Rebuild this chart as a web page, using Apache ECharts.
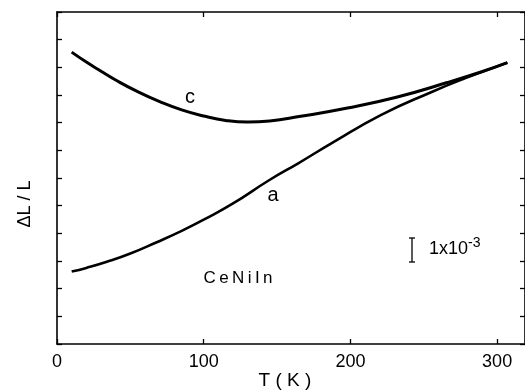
<!DOCTYPE html>
<html>
<head>
<meta charset="utf-8">
<script src="https://cdn.jsdelivr.net/npm/echarts@6/dist/echarts.min.js"></script>
<style>
html,body{margin:0;padding:0;background:#fff;}
#chart{width:525px;height:390px;}
</style>
</head>
<body>
<div id="chart"></div>
<script>
// Temperature (K) and ΔL/L (arbitrary offset units, 1 unit ≈ tick spacing)
var T_c = [10, 20, 30, 40, 55, 70, 85, 100, 115, 130, 145, 165, 198, 232, 266, 290, 307];
var dL_c = [10.55, 10.19, 9.86, 9.54, 9.12, 8.76, 8.46, 8.24, 8.08, 8.02, 8.06, 8.22, 8.53, 8.93, 9.45, 9.85, 10.17];
var T_a = [10, 20, 34, 50, 68, 85, 101, 120, 144, 165, 187, 221, 255, 278, 307];
var dL_a = [2.62, 2.75, 2.97, 3.27, 3.68, 4.09, 4.52, 5.08, 5.9, 6.55, 7.25, 8.28, 9.1, 9.6, 10.17];
var xTicks = [0, 100, 200, 300];

function pairs(xs, ys){ return xs.map(function(x,i){ return [x, ys[i]]; }); }

var chart = echarts.init(document.getElementById('chart'), null, {renderer:'canvas'});
var font = 'Liberation Sans, Arial, sans-serif';
var axisLine = {show:true, onZero:false, lineStyle:{color:'#000', width:1.6}};
var tickIn = {show:true, inside:true, length:5, lineStyle:{color:'#000', width:1.3}};

chart.setOption({
  animation:false,
  backgroundColor:'#fff',
  grid:{left:57, top:12, right:-3, bottom:46},
  xAxis:[{
    type:'value', position:'bottom', min:0, max:319, interval:100,
    axisLine:axisLine, axisTick:tickIn, splitLine:{show:false},
    axisLabel:{color:'#000', fontSize:18, fontFamily:font, margin:9,
      showMaxLabel:false,
      formatter:function(v){ return xTicks.indexOf(v) >= 0 ? String(v) : ''; }}
  },{
    type:'value', position:'top', min:0, max:319, interval:100,
    axisLine:axisLine, axisTick:tickIn, splitLine:{show:false}, axisLabel:{show:false}
  }],
  yAxis:[{
    type:'value', position:'left', min:0, max:12, interval:1,
    axisLine:axisLine, axisTick:tickIn, splitLine:{show:false}, axisLabel:{show:false}
  },{
    type:'value', position:'right', min:0, max:12, interval:1,
    axisLine:axisLine, axisTick:tickIn, splitLine:{show:false}, axisLabel:{show:false}
  }],
  series:[{
    type:'line', name:'c', data:pairs(T_c, dL_c), smooth:true, showSymbol:false,
    lineStyle:{color:'#000', width:3}
  },{
    type:'line', name:'a', data:pairs(T_a, dL_a), smooth:true, showSymbol:false,
    lineStyle:{color:'#000', width:2.6}
  }],
  graphic:[
    {type:'text', x:190, y:97, style:{text:'c', fill:'#000', font:'20px '+font, align:'center', verticalAlign:'middle'}},
    {type:'text', x:273, y:195, style:{text:'a', fill:'#000', font:'20px '+font, align:'center', verticalAlign:'middle'}},
    {type:'text', x:238, y:278, style:{text:'C\u2009e\u2009N\u2009i\u2009I\u2009n', fill:'#000', font:'17px '+font, align:'center', verticalAlign:'middle'}},
    {type:'text', x:429, y:249, style:{
      text:'1x10{sup|-3}', fill:'#000', font:'18px '+font, align:'left', verticalAlign:'middle',
      rich:{sup:{fontSize:14, fontFamily:font, fill:'#000', verticalAlign:'top', padding:[0,0,12,0]}}}},
    {type:'line', shape:{x1:412, y1:238, x2:412, y2:262}, style:{stroke:'#000', lineWidth:1.3}},
    {type:'line', shape:{x1:409, y1:238, x2:415, y2:238}, style:{stroke:'#000', lineWidth:1.3}},
    {type:'line', shape:{x1:409, y1:262, x2:415, y2:262}, style:{stroke:'#000', lineWidth:1.3}},
    {type:'text', x:25, y:204, rotation:Math.PI/2, style:{text:'ΔL / L', fill:'#000', font:'18px '+font, align:'center', verticalAlign:'middle'}},
    {type:'text', x:285, y:381, style:{text:'T ( K )', fill:'#000', font:'19px '+font, align:'center', verticalAlign:'middle'}}
  ]
});
</script>
</body>
</html>
